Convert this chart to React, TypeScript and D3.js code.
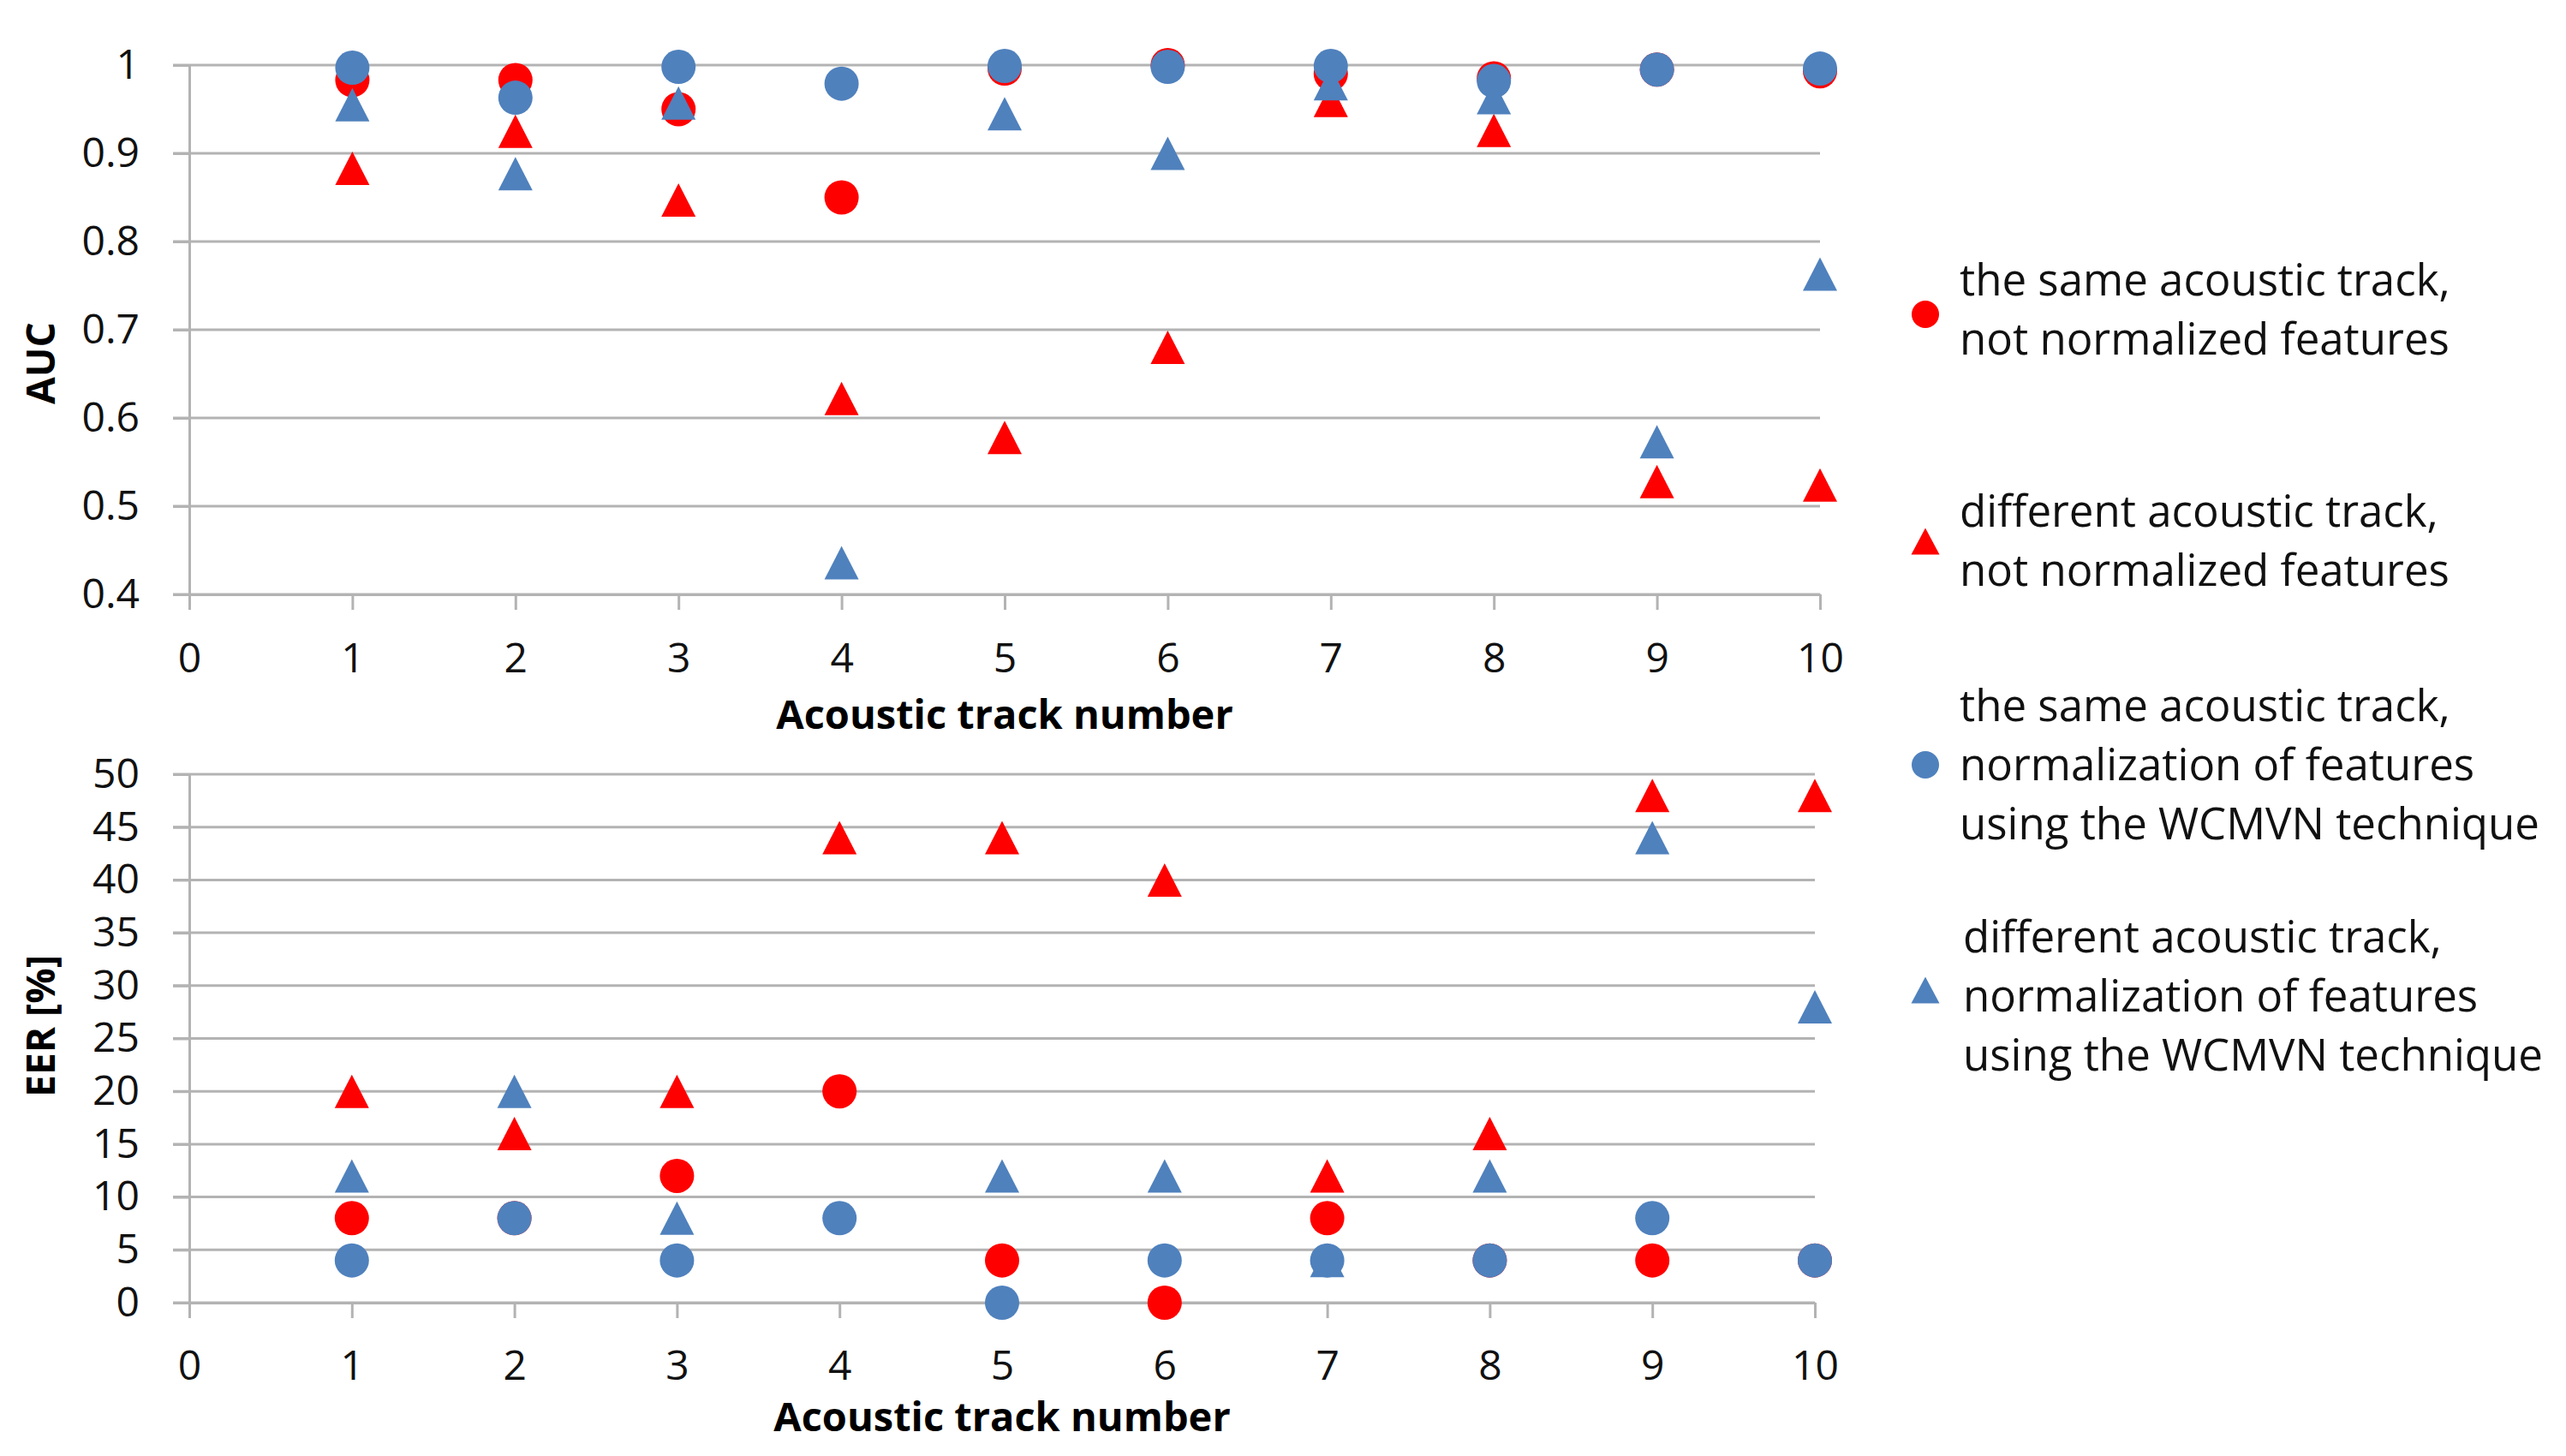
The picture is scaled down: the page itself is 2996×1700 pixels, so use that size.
import * as d3 from "d3";
import React, {useEffect, useRef} from "react";

const tracks = [1, 2, 3, 4, 5, 6, 7, 8, 9, 10];
const xTicks = [0, 1, 2, 3, 4, 5, 6, 7, 8, 9, 10];
const aucTicks = [0.4, 0.5, 0.6, 0.7, 0.8, 0.9, 1];
const eerTicks = [0, 5, 10, 15, 20, 25, 30, 35, 40, 45, 50];

// AUC values per track
const aucSameRaw = [0.983, 0.983, 0.95, 0.85, 0.996, 1.0, 0.99, 0.985, 0.995, 0.993];
const aucDiffRaw = [0.883, 0.925, 0.847, 0.622, 0.578, 0.68, 0.96, 0.926, 0.528, 0.524];
const aucSameNorm = [0.997, 0.963, 0.998, 0.979, 0.999, 0.998, 0.999, 0.982, 0.995, 0.996];
const aucDiffNorm = [0.955, 0.877, 0.957, 0.436, 0.945, 0.9, 0.979, 0.963, 0.573, 0.763];

// EER [%] per track (null = point not visible in the chart)
const eerSameRaw = [8, 8, 12, 20, 4, 0, 8, 4, 4, 4];
const eerDiffRaw = [20, 16, 20, 44, 44, 40, 12, 16, 48, 48];
const eerSameNorm = [4, 8, 4, 8, 0, 4, 4, 4, 8, 4];
const eerDiffNorm: (number | null)[] = [12, 20, 8, null, 12, 12, 4, 12, 44, 28];

const legendLabels = [
  ["the same acoustic track,", "not normalized features"],
  ["different acoustic track,", "not normalized features"],
  ["the same acoustic track,", "normalization of features", "using the WCMVN technique"],
  ["different acoustic track,", "normalization of features", "using the WCMVN technique"],
];

const RED = "#FF0000";
const BLUE = "#4F81BD";
const GRID = "#B3B3B3";
const FONT = "'Open Sans', 'Noto Sans', sans-serif";

type Shape = "circle" | "triangle";

interface Series {
  color: string
  shape: Shape
  auc: (number | null)[]
  eer: (number | null)[]
}

const series: Series[] = [
  {color: RED, shape: "circle", auc: aucSameRaw, eer: eerSameRaw},
  {color: RED, shape: "triangle", auc: aucDiffRaw, eer: eerDiffRaw},
  {color: BLUE, shape: "circle", auc: aucSameNorm, eer: eerSameNorm},
  {color: BLUE, shape: "triangle", auc: aucDiffNorm, eer: eerDiffNorm},
];

const trianglePath = (w: number, h: number) => `M0,${-h / 2}L${w / 2},${h / 2}L${-w / 2},${h / 2}Z`;

interface PanelConfig {
  left: number
  right: number
  top: number
  bottom: number
  domain: [number, number]
  ticks: number[]
  values: (s: Series) => (number | null)[]
  yTitle: string
  yTitleY: number
  xPad: number
  xTitleY: number
}

function drawPanel(svg: d3.Selection<SVGSVGElement | null, unknown, null, undefined>, cfg: PanelConfig) {
  const x = d3.scaleLinear().domain([0, 10]).range([cfg.left, cfg.right]);
  const y = d3.scaleLinear().domain(cfg.domain).range([cfg.bottom, cfg.top]);

  // gridlines
  svg.append("g")
    .selectAll("line")
    .data(cfg.ticks)
    .join("line")
    .attr("x1", cfg.left - 19)
    .attr("x2", cfg.right)
    .attr("y1", (d) => y(d))
    .attr("y2", (d) => y(d))
    .attr("stroke", GRID)
    .attr("stroke-width", 3);

  const yAxis = svg.append("g")
    .attr("transform", `translate(${cfg.left},0)`)
    .call(d3.axisLeft(y).tickValues(cfg.ticks).tickSize(19).tickSizeOuter(0).tickPadding(39).tickFormat((d) => String(d)));

  const xAxis = svg.append("g")
    .attr("transform", `translate(0,${cfg.bottom})`)
    .call(d3.axisBottom(x).tickValues(xTicks).tickSize(18).tickSizeOuter(0).tickPadding(cfg.xPad).tickFormat((d) => String(d)));

  [yAxis, xAxis].forEach((g) => {
    g.selectAll(".domain, .tick line").attr("stroke", GRID).attr("stroke-width", 3);
    g.selectAll("text")
      .attr("font-family", FONT)
      .attr("font-size", 48)
      .attr("fill", "#111");
  });

  // markers
  series.forEach((s) => {
    const vals = cfg.values(s);
    const pts = tracks
      .map((t, i) => ({t, v: vals[i]}))
      .filter((p) => p.v !== null) as {t: number, v: number}[];
    const g = svg.append("g").attr("fill", s.color);
    if (s.shape === "circle") {
      g.selectAll("circle")
        .data(pts)
        .join("circle")
        .attr("cx", (d) => x(d.t))
        .attr("cy", (d) => y(d.v))
        .attr("r", 20);
    } else {
      g.selectAll("path")
        .data(pts)
        .join("path")
        .attr("d", trianglePath(40, 39))
        .attr("transform", (d) => `translate(${x(d.t)},${y(d.v)})`);
    }
  });

  // axis titles
  svg.append("text")
    .attr("x", (cfg.left + cfg.right) / 2)
    .attr("y", cfg.xTitleY)
    .attr("dy", "0.35em")
    .attr("text-anchor", "middle")
    .attr("font-family", FONT)
    .attr("font-weight", "bold")
    .attr("font-size", 47)
    .text("Acoustic track number");

  svg.append("text")
    .attr("transform", `translate(48,${cfg.yTitleY}) rotate(-90)`)
    .attr("dy", "0.35em")
    .attr("text-anchor", "middle")
    .attr("font-family", FONT)
    .attr("font-weight", "bold")
    .attr("font-size", 46)
    .text(cfg.yTitle);
}

const App: React.FC = () => {
  const ref = useRef<SVGSVGElement | null>(null);

  useEffect(() => {
    const svg = d3.select(ref.current);
    svg.selectAll("*").remove();

    svg.append("rect").attr("width", 2996).attr("height", 1700).attr("fill", "#fff");

    drawPanel(svg, {
      left: 221, right: 2125, top: 76, bottom: 694,
      domain: [0.4, 1], ticks: aucTicks, values: (s) => s.auc,
      yTitle: "AUC", yTitleY: 424, xPad: 39, xTitleY: 835,
    });

    drawPanel(svg, {
      left: 221, right: 2119, top: 904, bottom: 1521,
      domain: [0, 50], ticks: eerTicks, values: (s) => s.eer,
      yTitle: "EER [%]", yTitleY: 1198, xPad: 38, xTitleY: 1655,
    });

    // legend
    const rowY = [362, 632, 893, 1163];
    const lineH = 69;
    const legend = svg.append("g");
    series.forEach((s, i) => {
      const cy = rowY[i];
      const my = i === 3 ? 1156 : i === 0 ? 367 : cy;
      if (s.shape === "circle") {
        legend.append("circle").attr("cx", 2248).attr("cy", my).attr("r", 16).attr("fill", s.color);
      } else {
        legend.append("path")
          .attr("d", trianglePath(33, 31))
          .attr("transform", `translate(2248,${my})`)
          .attr("fill", s.color);
      }
      const lines = legendLabels[i];
      const tx = i === 3 ? 2292 : 2288;
      lines.forEach((line, j) => {
        legend.append("text")
          .attr("x", tx)
          .attr("y", cy + (j - (lines.length - 1) / 2) * lineH)
          .attr("dy", "0.35em")
          .attr("font-family", FONT)
          .attr("font-size", 51)
          .attr("fill", "#111")
          .text(line);
      });
    });

    return () => {
      svg.selectAll("*").remove();
    };
  }, []);

  return <svg ref={ref} width={2996} height={1700} style={{position: "absolute", left: 0, top: 0}} />;
};

export default App;
